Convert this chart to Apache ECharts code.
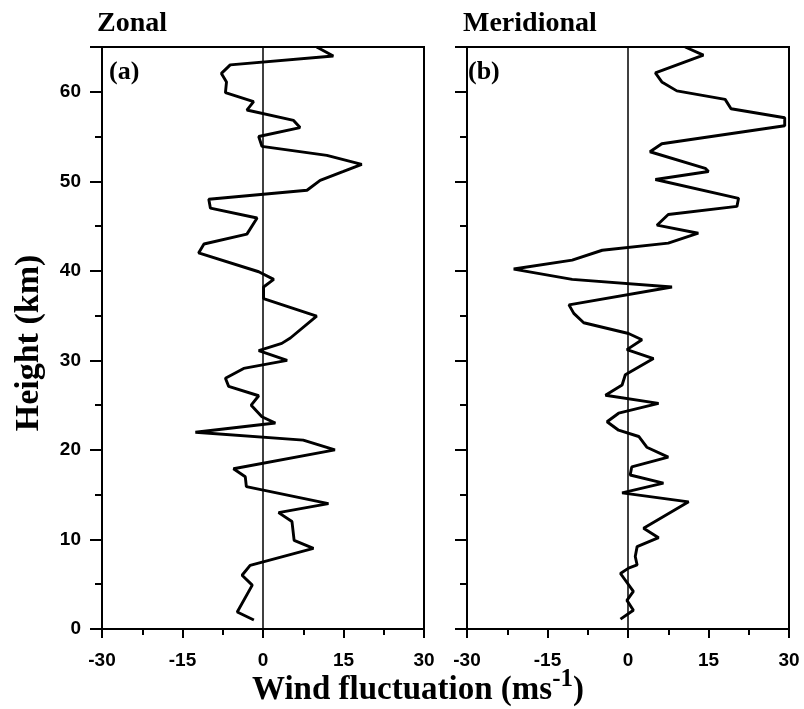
<!DOCTYPE html>
<html><head><meta charset="utf-8">
<script src="https://cdn.jsdelivr.net/npm/echarts@6/dist/echarts.min.js"></script>
<style>html,body{margin:0;padding:0;background:#fff}#c{width:804px;height:709px}</style>
</head><body><div id="c"></div>
<script>
const zonalHeight = [65,64.0,63.0,62.05,61.1,59.9,58.9,57.96,56.8,56.0,55.0,53.9,52.9,51.9,51.1,50.1,49.0,48.0,47.0,45.9,44.1,43.0,42.0,39.9,39.05,38.2,36.9,34.95,32.5,31.9,31.1,30.0,29.1,28.0,27.1,26.05,25.0,23.7,23.0,21.97,21.1,20.0,17.9,17.0,15.9,14.0,13.0,12.0,9.9,9.0,7.1,6.0,4.9,1.9,1.0];
const zonalWind = [10.0,13.1,-6.1,-7.75,-6.8,-7.0,-1.75,-3.0,5.7,6.9,-0.8,-0.2,11.9,18.4,15.0,10.65,8.2,-10.1,-9.8,-1.1,-3.0,-11.0,-12.0,-0.8,2.0,0.1,0.1,10.0,5.1,3.5,-0.8,4.5,-3.6,-7.0,-6.4,-0.8,-2.2,-0.2,2.3,-12.6,7.5,13.4,-5.5,-3.3,-3.1,12.2,2.9,5.4,5.8,9.4,-2.4,-3.9,-2.0,-4.8,-1.7];
const meridHeight = [65,64.1,62.1,61.1,60.1,59.15,58.1,57.1,56.2,54.2,53.3,51.45,51.1,50.2,48.1,47.2,46.3,45.1,44.2,43.1,42.3,41.2,40.2,39.05,38.2,36.2,35.25,34.2,33.0,32.3,31.2,30.2,28.4,27.25,26.1,25.2,24.1,23.15,22.2,21.5,20.3,19.2,18.1,17.2,16.3,15.2,14.2,11.25,10.2,9.2,8.1,7.15,6.8,6.2,4.2,3.2,2.1,1.1];
const meridWind = [10.65,14.05,5.1,6.3,9.1,18.1,19.2,29.2,29.2,6.3,4.1,14.4,15.0,5.1,20.6,20.3,7.5,5.4,13.1,7.5,-4.8,-10.4,-21.3,-10.4,8.2,-11.0,-10.1,-8.25,0.1,2.6,-0.2,4.75,-0.5,-1.1,-4.2,5.7,-1.75,-3.9,-1.75,2.0,3.5,7.5,0.7,0.4,6.6,-1.1,11.3,2.9,5.7,1.7,1.35,1.7,0.1,-1.4,1.0,-0.2,1.0,-1.4];
const xTicks = [-30,-15,0,15,30];
const yTicks = [0,10,20,30,40,50,60];

const zonalData = zonalHeight.map((h,i)=>[zonalWind[i],h]);
const meridData = meridHeight.map((h,i)=>[meridWind[i],h]);

const labelFont = {fontFamily:'"Liberation Sans",Arial,sans-serif',fontWeight:'bold',fontSize:19,color:'#000'};
function xAxis(idx){
  return {type:'value',gridIndex:idx,min:xTicks[0],max:xTicks[xTicks.length-1],interval:15,
    axisLine:{show:true,onZero:false,lineStyle:{color:'#000',width:2}},
    axisTick:{show:true,inside:false,length:9,lineStyle:{color:'#000',width:2}},
    minorTick:{show:true,splitNumber:2,length:6,lineStyle:{color:'#000',width:2}},
    splitLine:{show:false},
    axisLabel:Object.assign({margin:22,formatter:v=>String(v)},labelFont)};
}
function yAxis(idx,showLabel){
  return {type:'value',gridIndex:idx,min:0,max:65,interval:10,
    axisLine:{show:true,onZero:false,lineStyle:{color:'#000',width:2}},
    axisTick:{show:true,inside:false,length:12,lineStyle:{color:'#000',width:2}},
    minorTick:{show:true,splitNumber:2,length:7,lineStyle:{color:'#000',width:2}},
    splitLine:{show:false},
    axisLabel:Object.assign({show:showLabel,margin:21,showMaxLabel:false,
      formatter:v=>yTicks.includes(v)?String(v):''},labelFont)};
}
function series(idx,data){
  return {type:'line',xAxisIndex:idx,yAxisIndex:idx,data:data,showSymbol:false,symbol:'none',
    lineStyle:{color:'#000',width:2.9},clip:true,animation:false,
    markLine:{silent:true,symbol:'none',label:{show:false},animation:false,
      lineStyle:{color:'#000',width:1.5,type:'solid'},data:[{xAxis:0}]}};
}
const serif = '"Liberation Serif","Times New Roman",serif';
const chart = echarts.init(document.getElementById('c'));
chart.setOption({
  animation:false,
  backgroundColor:'#fff',
  grid:[
    {left:102,right:380,top:47,bottom:80,show:true,borderColor:'#000',borderWidth:2,backgroundColor:'transparent'},
    {left:467,right:15,top:47,bottom:80,show:true,borderColor:'#000',borderWidth:2,backgroundColor:'transparent'}
  ],
  xAxis:[xAxis(0),xAxis(1)],
  yAxis:[yAxis(0,true),yAxis(1,false)],
  series:[series(0,zonalData),series(1,meridData)],
  graphic:[
    {type:'text',left:97,top:10,style:{text:'Zonal',font:'bold 28px '+serif,fill:'#000'}},
    {type:'text',left:463,top:10,style:{text:'Meridional',font:'bold 28px '+serif,fill:'#000'}},
    {type:'text',left:109,top:59,style:{text:'(a)',font:'bold 26px '+serif,fill:'#000'}},
    {type:'text',left:468,top:59,style:{text:'(b)',font:'bold 26px '+serif,fill:'#000'}},
    {type:'text',x:29,y:343,rotation:Math.PI/2,style:{text:'Height (km)',font:'bold 34px '+serif,fill:'#000',align:'center',verticalAlign:'middle'}},
    {type:'text',x:418,y:690,style:{text:'Wind fluctuation (ms{sup|-1})',font:'bold 33px '+serif,fill:'#000',align:'center',verticalAlign:'middle',
      rich:{sup:{font:'bold 25px '+serif,fill:'#000',verticalAlign:'top',padding:[0,0,20,0]}}}}
  ]
});
</script></body></html>
